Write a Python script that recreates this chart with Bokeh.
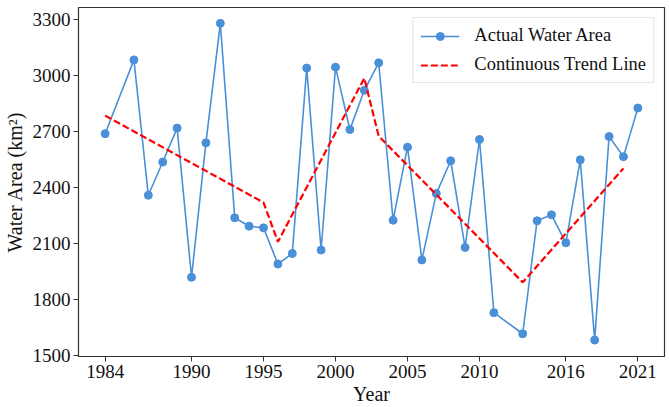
from bokeh.plotting import figure
from bokeh.models import FixedTicker, Range1d, Legend, LegendItem, ColumnDataSource
from bokeh.embed import file_html
from bokeh.resources import INLINE

# Annual surface water area (km²)
years = [1984, 1986, 1987, 1988, 1989, 1990, 1991, 1992, 1993, 1994, 1995,
         1996, 1997, 1998, 1999, 2000, 2001, 2002, 2003, 2004, 2005, 2006,
         2007, 2008, 2009, 2010, 2011, 2013, 2014, 2015, 2016, 2017, 2018,
         2019, 2020, 2021]
area = [2690, 3086, 2360, 2538, 2720, 1920, 2641, 3282, 2239, 2194, 2185,
        1991, 2048, 3042, 2066, 3047, 2712, 2923, 3070, 2226, 2618, 2013,
        2369, 2545, 2080, 2659, 1730, 1617, 2223, 2255, 2105, 2550, 1583,
        2675, 2567, 2828]

# Piecewise trend line vertices
trend_years = [1984, 1995, 1996, 2002, 2003, 2013, 2020]
trend_area = [2787, 2321, 2110, 2988, 2677, 1893, 2504]

x_ticks = [1984, 1990, 1995, 2000, 2005, 2010, 2016, 2021]
y_ticks = [1500, 1800, 2100, 2400, 2700, 3000, 3300]

FONT = "Liberation Serif"
BLUE = "#4a90d9"

p = figure(width=669, height=407, output_backend="svg", toolbar_location=None,
           x_range=Range1d(1982.15, 2022.85), y_range=Range1d(1495, 3367),
           min_border_left=78, min_border_right=5, min_border_top=7,
           min_border_bottom=50)

src = ColumnDataSource(dict(x=years, y=area))
r_line = p.line("x", "y", source=src, line_color=BLUE, line_width=1.6)
r_pts = p.scatter("x", "y", source=src, size=8, fill_color=BLUE, line_color=BLUE)
r_trend = p.line(trend_years, trend_area, line_color="#ff0000", line_width=2.2,
                 line_dash="7 3")

p.xgrid.visible = False
p.ygrid.visible = False
p.outline_line_color = "#333333"
p.outline_line_width = 1.2

for ax in (p.xaxis, p.yaxis):
    ax.major_label_text_font = FONT
    ax.major_label_text_font_size = "19px"
    ax.major_label_text_color = "#111111"
    ax.axis_label_text_font = FONT
    ax.axis_label_text_font_size = "20px"
    ax.axis_label_text_font_style = "normal"
    ax.axis_label_text_color = "#111111"
    ax.minor_tick_line_color = None
    ax.major_tick_out = 5
    ax.major_tick_in = 0
    ax.axis_line_color = "#333333"
    ax.major_tick_line_color = "#333333"

p.xaxis.ticker = FixedTicker(ticks=x_ticks)
p.yaxis.ticker = FixedTicker(ticks=y_ticks)
p.xaxis.axis_label = "Year"
p.yaxis.axis_label = "Water Area (km²)"
p.xaxis.major_label_standoff = 3
p.yaxis.major_label_standoff = 3
p.xaxis.axis_label_standoff = 2
p.yaxis.axis_label_standoff = 4

legend = Legend(items=[
    LegendItem(label="Actual Water Area", renderers=[r_line, r_pts]),
    LegendItem(label="Continuous Trend Line", renderers=[r_trend]),
], location="top_right")
legend.label_text_font = FONT
legend.label_text_font_size = "18.5px"
legend.label_text_color = "#111111"
legend.border_line_color = "#cccccc"
legend.border_line_width = 1
legend.padding = 7
legend.spacing = 8
legend.glyph_width = 39
legend.label_standoff = 15
legend.margin = 10
p.add_layout(legend)

open("out.html", "w").write(file_html(p, INLINE))
